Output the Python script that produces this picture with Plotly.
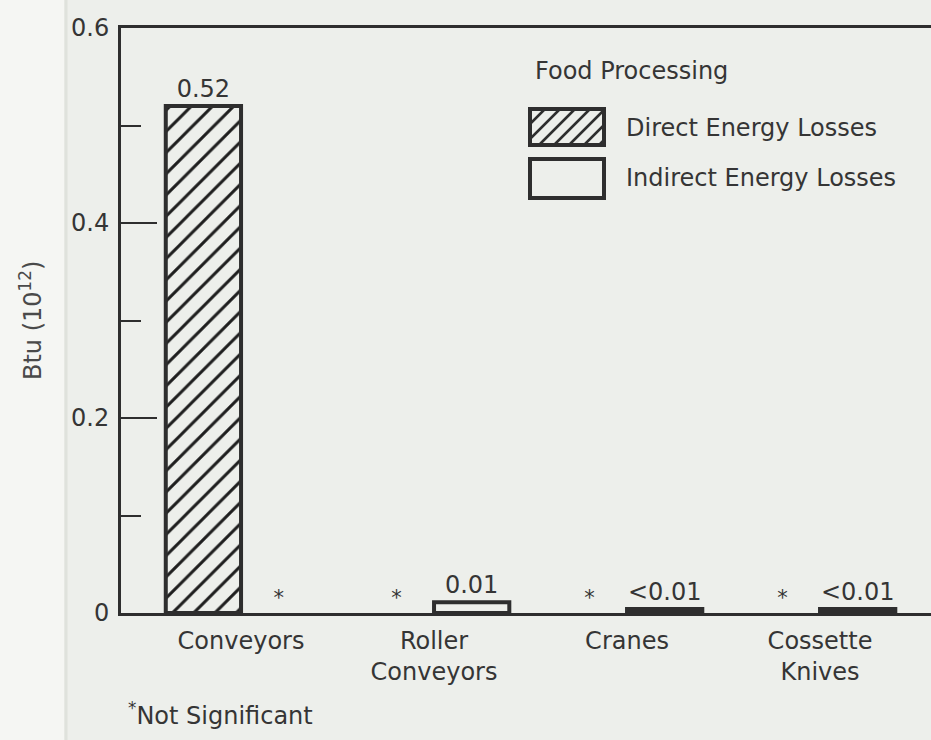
import plotly.graph_objects as go

# ---- data ----
categories = ["Conveyors", "Roller<br>Conveyors", "Cranes", "Cossette<br>Knives"]
direct_values = [0.52, 0.0, 0.0, 0.0]
indirect_values = [0.0, 0.011, 0.004, 0.004]
direct_labels = ["0.52", "*", "*", "*"]
indirect_labels = ["*", "0.01", "<0.01", "<0.01"]
y_tickvals = [0, 0.2, 0.4, 0.6]
y_ticktext = ["0", "0.2", "0.4", "0.6"]
series_names = ["Direct Energy Losses", "Indirect Energy Losses"]
legend_title = "Food Processing"
y_title = "Btu (10<sup>12</sup>)"
footnote = "<sup>*</sup>Not Significant"

# ---- style ----
W, H = 931, 740
ML, MR, MT, MB = 121, 0, 28, 127
PW, PH = W - ML - MR, H - MT - MB
BG = "#edefeb"
INK = "#2e2e2e"
TXT = "#353535"
FONT = "DejaVu Sans"


def px(x, y):
    return (x - ML) / PW, (H - MB - y) / PH


def sizes(labels, big, small):
    return [small if t == "*" else big for t in labels]


def widths(values):
    return [4 if v > 0 else 0 for v in values]


fig = go.Figure()
fig.add_trace(go.Bar(
    x=categories, y=direct_values, name=series_names[0],
    text=direct_labels, textposition="outside", cliponaxis=False,
    textfont=dict(family=FONT, size=sizes(direct_labels, 24, 21), color=TXT),
    marker=dict(color=BG, line=dict(color=INK, width=widths(direct_values)),
                pattern=dict(shape="/", fgcolor="#1e1e1e", bgcolor=BG, size=15,
                             solidity=0.2, fillmode="replace")),
))
fig.add_trace(go.Bar(
    x=categories, y=indirect_values, name=series_names[1],
    text=indirect_labels, textposition="outside", cliponaxis=False,
    textfont=dict(family=FONT, size=sizes(indirect_labels, 24, 21), color=TXT),
    marker=dict(color=BG, line=dict(color=INK, width=widths(indirect_values))),
))

shapes = []
# scan edge band on the left
shapes.append(dict(type="rect", xref="paper", yref="paper", layer="below",
                   x0=px(0, 0)[0], x1=px(64, 0)[0], y0=px(0, H)[1], y1=px(0, 0)[1],
                   fillcolor="#f5f6f3", line=dict(width=0)))
shapes.append(dict(type="line", xref="paper", yref="paper", layer="below",
                   x0=px(66, 0)[0], x1=px(66, 0)[0], y0=px(0, H)[1], y1=px(0, 0)[1],
                   line=dict(color="#dfe2dc", width=3)))


def swatch(x0, y0, x1, y1, hatch):
    a, b = px(x0, y1)
    c, d = px(x1, y0)
    shapes.append(dict(type="rect", xref="paper", yref="paper", x0=a, y0=b, x1=c, y1=d,
                       fillcolor=BG, line=dict(color=INK, width=4)))
    if hatch:
        hh = y1 - y0
        segs = []
        cpos = x0 - hh
        while cpos < x1:
            tlo = max(0, x0 - cpos)
            thi = min(hh, x1 - cpos)
            if tlo < thi:
                p = px(cpos + tlo, y1 - tlo)
                q = px(cpos + thi, y1 - thi)
                segs.append(f"M{p[0]:.5f},{p[1]:.5f} L{q[0]:.5f},{q[1]:.5f}")
            cpos += 15
        shapes.append(dict(type="path", xref="paper", yref="paper", path=" ".join(segs),
                           line=dict(color=INK, width=2.5)))


swatch(530, 109, 604, 145, True)
swatch(530, 159, 604, 198, False)

annotations = [
    dict(text=legend_title, x=px(533, 0)[0], y=px(0, 71)[1], xref="paper", yref="paper",
         xanchor="left", yanchor="middle", showarrow=False,
         font=dict(family=FONT, size=24, color=TXT)),
    dict(text=series_names[0], x=px(624, 0)[0], y=px(0, 128)[1], xref="paper", yref="paper",
         xanchor="left", yanchor="middle", showarrow=False,
         font=dict(family=FONT, size=24, color=TXT)),
    dict(text=series_names[1], x=px(624, 0)[0], y=px(0, 178)[1], xref="paper", yref="paper",
         xanchor="left", yanchor="middle", showarrow=False,
         font=dict(family=FONT, size=24, color=TXT)),
    dict(text=y_title, x=px(31, 0)[0], y=px(0, 321)[1], xref="paper", yref="paper",
         xanchor="center", yanchor="middle", textangle=-90, showarrow=False,
         font=dict(family=FONT, size=24, color="#4a4a4a")),
    dict(text=footnote, x=px(126, 0)[0], y=px(0, 714)[1], xref="paper", yref="paper",
         xanchor="left", yanchor="middle", showarrow=False,
         font=dict(family=FONT, size=24, color=TXT)),
]

fig.update_layout(
    width=W, height=H,
    margin=dict(l=ML, r=MR, t=MT, b=MB, pad=0),
    paper_bgcolor=BG, plot_bgcolor=BG,
    barmode="group", bargap=0.22, bargroupgap=0,
    showlegend=False,
    font=dict(family=FONT, size=24, color=TXT),
    shapes=shapes, annotations=annotations,
    xaxis=dict(range=[-0.622, 3.575], showline=True, linecolor=INK, linewidth=3,
               mirror=True, ticks="", showgrid=False, zeroline=False,
               tickfont=dict(family=FONT, size=24, color=TXT),
               ticklabelstandoff=4, fixedrange=True),
    yaxis=dict(range=[0, 0.6], showline=True, linecolor=INK, linewidth=3,
               mirror=False, showgrid=False, zeroline=False,
               tickvals=y_tickvals, ticktext=y_ticktext,
               ticks="inside", ticklen=36, tickwidth=2, tickcolor=INK,
               minor=dict(dtick=0.1, ticks="inside", ticklen=20, tickwidth=2,
                          tickcolor=INK, showgrid=False),
               tickfont=dict(family=FONT, size=24, color=TXT),
               ticklabelstandoff=4, fixedrange=True),
)

fig.write_html("out.html", config={"displayModeBar": False},
               post_script="document.body.style.margin='0';document.body.style.background='" + BG + "';")
